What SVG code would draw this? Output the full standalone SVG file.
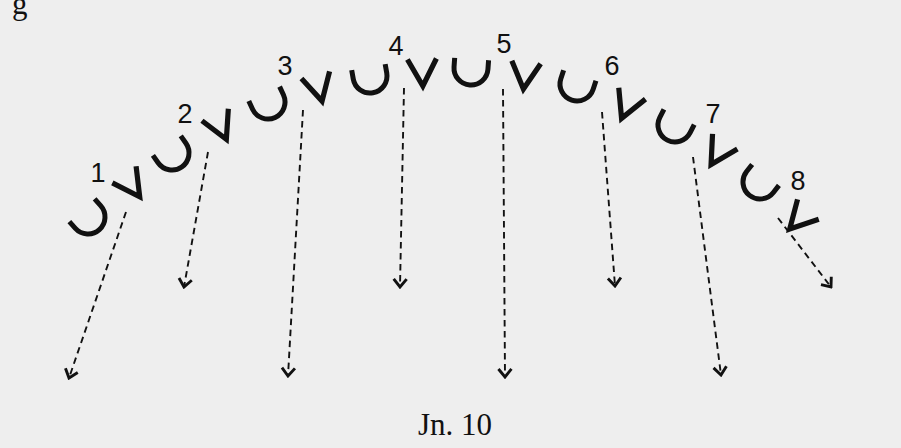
<svg xmlns="http://www.w3.org/2000/svg" width="901" height="448" viewBox="0 0 901 448">
<style>
.u{fill:none;stroke:#111;stroke-width:5}
.v{fill:none;stroke:#111;stroke-width:5.2;stroke-linejoin:miter;stroke-miterlimit:10}
.lbl{font-family:"Liberation Sans",Arial,sans-serif;font-size:27px;fill:#111;text-anchor:middle}
.dash{fill:none;stroke:#111;stroke-width:1.9;stroke-dasharray:6.5 4.5;marker-end:url(#arr)}
.cap{font-family:"Liberation Serif","Times New Roman",serif;font-size:31px;fill:#111}
</style>
<defs>
<path id="U" d="M-17,-9 L-17,0 A17,17 0 0 0 17,0 L17,-9"/>
<path id="V" d="M-14.5,-31 L0,-4 L14.5,-31"/>
<marker id="arr" viewBox="-12 -10 14 20" refX="0" refY="0" markerWidth="14" markerHeight="20" markerUnits="userSpaceOnUse" orient="auto">
<path d="M-8,-6.5 L0,0 L-8,6.5" fill="none" stroke="#111" stroke-width="2.9"/>
</marker>
</defs>
<rect width="901" height="448" fill="#eeeeee"/>
<text x="12" y="14" class="cap" font-size="20">g</text>
<g id="connectors">
<path class="dash" d="M126,212 L69,378"/>
<path class="dash" d="M208,152 L184,287"/>
<path class="dash" d="M303,110 L288,376"/>
<path class="dash" d="M404,88 L400,287"/>
<path class="dash" d="M503,89 L505,377"/>
<path class="dash" d="M602,112 L615,286"/>
<path class="dash" d="M693,157 L721,375"/>
<path class="dash" d="M778,218 L831,287"/>
</g>
<g id="n1"><use href="#U" class="u" transform="translate(88,217) rotate(-42)"/><use href="#V" class="v" transform="translate(142,200) rotate(-35)"/><text class="lbl" x="98" y="182">1</text></g>
<g id="n2"><use href="#U" class="u" transform="translate(172,153) rotate(-35)"/><use href="#V" class="v" transform="translate(228,143) rotate(-24.5)"/><text class="lbl" x="185" y="123">2</text></g>
<g id="n3"><use href="#U" class="u" transform="translate(268,102) rotate(-25)"/><use href="#V" class="v" transform="translate(323,105) rotate(-14)"/><text class="lbl" x="285" y="75">3</text></g>
<g id="n4"><use href="#U" class="u" transform="translate(370,76) rotate(-10)"/><use href="#V" class="v" transform="translate(423,90) rotate(-2)"/><text class="lbl" x="396" y="55">4</text></g>
<g id="n5"><use href="#U" class="u" transform="translate(471,68) rotate(4)"/><use href="#V" class="v" transform="translate(523,93) rotate(6)"/><text class="lbl" x="504" y="53">5</text></g>
<g id="n6"><use href="#U" class="u" transform="translate(577,84) rotate(18)"/><use href="#V" class="v" transform="translate(620,122) rotate(23)"/><text class="lbl" x="612" y="75">6</text></g>
<g id="n7"><use href="#U" class="u" transform="translate(675,125) rotate(27)"/><use href="#V" class="v" transform="translate(709,168) rotate(31)"/><text class="lbl" x="713" y="123">7</text></g>
<g id="n8"><use href="#U" class="u" transform="translate(760,182) rotate(38)"/><use href="#V" class="v" transform="translate(787,232) rotate(43)"/><text class="lbl" x="798" y="190">8</text></g>
<g id="caption"><text class="cap" x="418" y="435">Jn. 10</text></g>
</svg>
